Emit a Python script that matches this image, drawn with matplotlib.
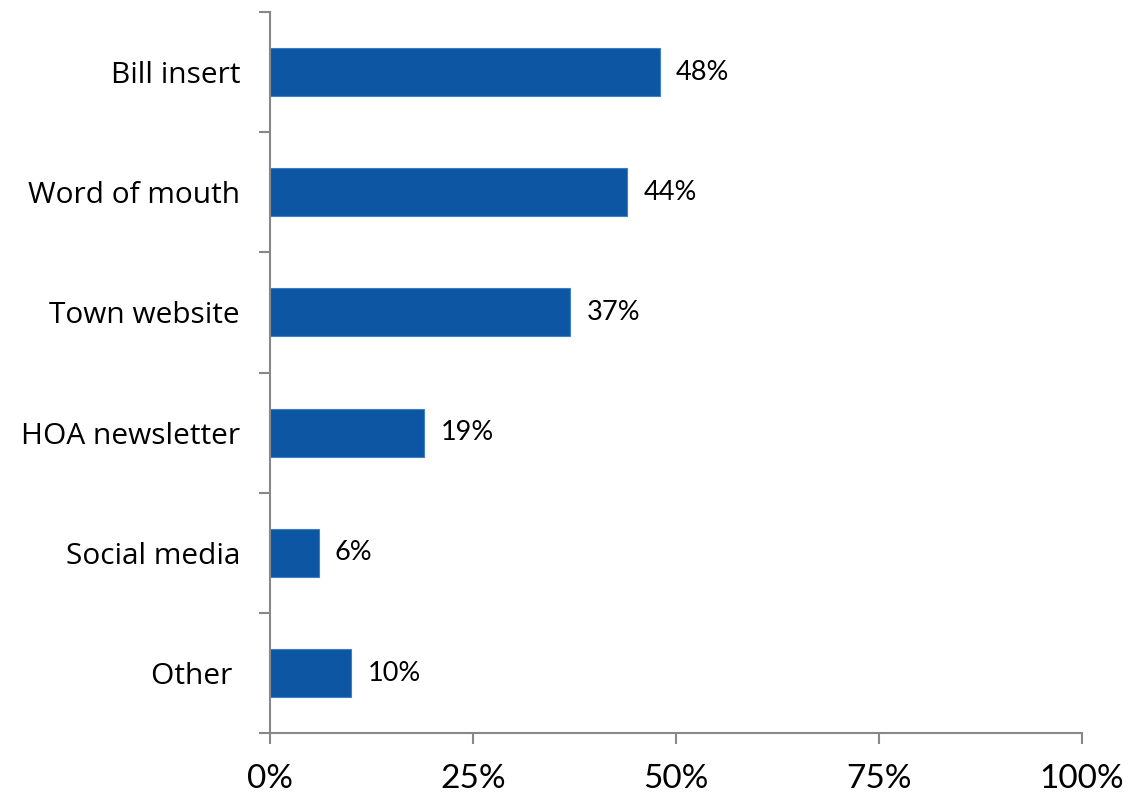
import matplotlib.pyplot as plt

categories = ["Bill insert", "Word of mouth", "Town website", "HOA newsletter", "Social media", "Other "]
values = [48, 44, 37, 19, 6, 10]
x_ticks = [0, 25, 50, 75, 100]

bar_color = "#0c56a4"
axis_color = "#888888"

fig = plt.figure(figsize=(11.44, 7.96), dpi=100)
ax = fig.add_axes([0.236, 0.079, 0.7098, 0.906])

y = list(range(len(categories)))[::-1]
ax.barh(y, values, height=0.4, color=bar_color, edgecolor="#3f7fc6", linewidth=0.8)

for yi, v in zip(y, values):
    ax.text(v + 2, yi, f"{v}%", va="center", ha="left", fontsize=19.5,
            family="Lato", color="black")

ax.set_xlim(0, 100)
ax.set_ylim(-0.5, len(categories) - 0.5)
ax.set_xticks(x_ticks)
ax.set_xticklabels([f"{t}%" for t in x_ticks], fontsize=24, family="Lato")

ax.set_yticks(y)
ax.set_yticklabels(categories, fontsize=21.5, family="Open Sans")
ax.tick_params(axis="y", length=0, pad=21.5)
ax.set_yticks([i - 0.5 for i in range(len(categories) + 1)], minor=True)
ax.tick_params(axis="y", which="minor", length=8, width=1.5, color=axis_color)
ax.tick_params(axis="x", length=8, width=1.5, color=axis_color, direction="out", pad=14)

for side in ["top", "right"]:
    ax.spines[side].set_visible(False)
for side in ["left", "bottom"]:
    ax.spines[side].set_color(axis_color)
    ax.spines[side].set_linewidth(1.5)

fig.savefig("out.png", dpi=100)
